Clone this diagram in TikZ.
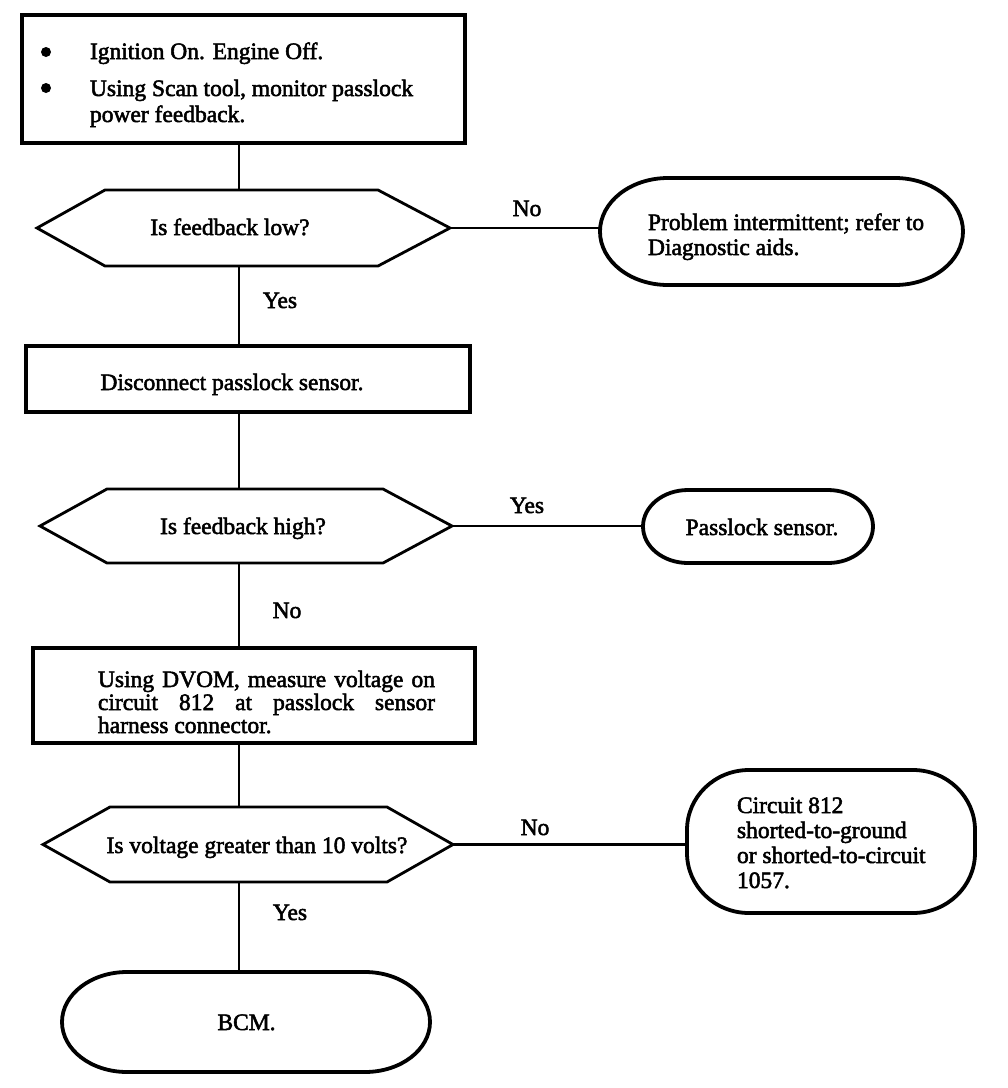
\documentclass[tikz,border=0pt]{standalone}
\usepackage{fontspec}
\setmainfont{Liberation Serif}
\newfontfamily\heavyserif[FakeBold=2.2]{Liberation Serif}
\newcommand{\mytermpath}[3]{%
  \draw[termline] ([xshift=#2]#1.north west) -- ([xshift=-#2]#1.north east)
    arc[start angle=90,end angle=0,x radius=#2,y radius=#3]
    -- ([yshift=#3]#1.south east)
    arc[start angle=0,end angle=-90,x radius=#2,y radius=#3]
    -- ([xshift=#2]#1.south west)
    arc[start angle=270,end angle=180,x radius=#2,y radius=#3]
    -- ([yshift=-#3]#1.north west)
    arc[start angle=180,end angle=90,x radius=#2,y radius=#3] -- cycle;}
\newcommand{\myhexpath}[3]{%
  \draw[decline] (#1.west) -- ([xshift=#2]#1.north west) -- ([xshift=-#3]#1.north east)
    -- (#1.east) -- ([xshift=-#3]#1.south east) -- ([xshift=#2]#1.south west) -- cycle;}
\begin{document}
\begin{tikzpicture}[x=1pt,y=-1pt,
  holder/.style={draw=none, inner sep=0pt, outer sep=0pt},
  boxline/.style={line width=3.6pt, line join=miter},
  decline/.style={line width=2.8pt, line join=miter},
  termline/.style={line width=3.8pt},
  conn/.style={line width=2.6pt},
  txt/.style={inner sep=0pt, outer sep=0pt, font=\heavyserif\fontsize{23.5}{25}\selectfont},
  dot/.style={circle, fill=black, inner sep=0pt, minimum size=10pt}]
\fill[white] (0,0) rectangle (1008,1088);
\useasboundingbox (0,0) rectangle (1008,1088);

% shapes
\node[holder, draw, boxline, minimum width=443pt, minimum height=128pt] (b1) at (243.5,79) {};
\node[holder, minimum width=413pt, minimum height=76pt] (d1) at (243.5,228) {};
\myhexpath{d1}{68pt}{72pt}
\node[holder, minimum width=363pt, minimum height=107pt] (n1) at (781.5,231.5) {};
\mytermpath{n1}{68pt}{53.5pt}
\node[holder, draw, boxline, minimum width=444pt, minimum height=66pt] (b2) at (248,379) {};
\node[holder, minimum width=412pt, minimum height=74pt] (d2) at (246,526) {};
\myhexpath{d2}{67pt}{69pt}
\node[holder, minimum width=230pt, minimum height=73pt] (n2) at (758,526.5) {};
\mytermpath{n2}{45pt}{36.5pt}
\node[holder, draw, boxline, minimum width=442pt, minimum height=95pt] (b3) at (254,695.5) {};
\node[holder, minimum width=410pt, minimum height=75pt] (d3) at (248,844.5) {};
\myhexpath{d3}{67pt}{66pt}
\node[holder, minimum width=288pt, minimum height=143pt] (n3) at (831,841.5) {};
\mytermpath{n3}{62pt}{60pt}
\node[holder, minimum width=368pt, minimum height=100pt] (n4) at (246,1022) {};
\mytermpath{n4}{65pt}{50pt}

% connectors
\coordinate (vx) at (239,0);
\draw[conn] (b1.south -| vx) -- (d1.north -| vx);
\draw[conn] (d1.south -| vx) -- (b2.north -| vx);
\draw[conn] (b2.south -| vx) -- (d2.north -| vx);
\draw[conn] (d2.south -| vx) -- (b3.north -| vx);
\draw[conn] (b3.south -| vx) -- (d3.north -| vx);
\draw[conn] (d3.south -| vx) -- (n4.north -| vx);
\draw[conn] (d1.east) -- (d1.east -| n1.west);
\draw[conn] (d2.east) -- (d2.east -| n2.west);
\draw[conn] (d3.east) -- (d3.east -| n3.west);

% texts
\node[dot] (p1) at (46,52) {};
\node[dot] (p2) at (46,88) {};
\node[txt, anchor=base west] (t1a) at (90,59) {Ignition On. Engine Off.};
\node[txt, anchor=base west] (t1b) at (90,96) {Using Scan tool, monitor passlock};
\node[txt, anchor=base west] (t1c) at (90,122) {power feedback.};
\node[txt, anchor=base] (td1) at (230,235) {Is feedback low?};
\node[txt, anchor=base west] (tn1a) at (648,230) {Problem intermittent; refer to};
\node[txt, anchor=base west] (tn1b) at (648,255) {Diagnostic aids.};
\node[txt, anchor=base] (tb2) at (232,390) {Disconnect passlock sensor.};
\node[txt, anchor=base] (td2) at (243,534) {Is feedback high?};
\node[txt, anchor=base] (tn2) at (762,535) {Passlock sensor.};
\node[txt, anchor=base west] (tb3a) at (98,687) {\makebox[337pt][s]{Using DVOM, measure voltage on}};
\node[txt, anchor=base west] (tb3b) at (98,710) {\makebox[337pt][s]{circuit 812 at passlock sensor}};
\node[txt, anchor=base west] (tb3c) at (98,733) {harness connector.};
\node[txt, anchor=base] (td3) at (257,853) {Is voltage greater than 10 volts?};
\node[txt, anchor=base west] (tn3a) at (737,813) {Circuit 812};
\node[txt, anchor=base west] (tn3b) at (737,838) {shorted-to-ground};
\node[txt, anchor=base west] (tn3c) at (737,863) {or shorted-to-circuit};
\node[txt, anchor=base west] (tn3d) at (737,888) {1057.};
\node[txt, anchor=base] (tn4) at (246.5,1030) {BCM.};

% labels
\node[txt, anchor=base] (l1) at (527,216) {No};
\node[txt, anchor=base] (l2) at (280,308) {Yes};
\node[txt, anchor=base] (l3) at (527,513) {Yes};
\node[txt, anchor=base] (l4) at (287,618) {No};
\node[txt, anchor=base] (l5) at (535,835) {No};
\node[txt, anchor=base] (l6) at (290,920) {Yes};
\end{tikzpicture}
\end{document}
